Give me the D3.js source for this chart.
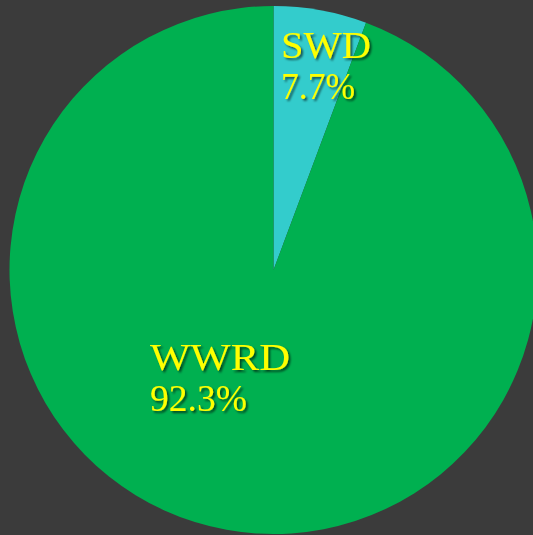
<!DOCTYPE html>
<html><head><meta charset="utf-8">
<script src="https://cdn.jsdelivr.net/npm/d3@7"></script>
<style>
html,body{margin:0;padding:0;background:#3b3b3b;}
svg{display:block;}
</style></head>
<body>
<svg id="c" width="533" height="535"></svg>
<script>
// slice sizes as drawn in the picture; label texts as printed
const categories = ["SWD", "WWRD"];
const values = [5.7, 94.3];
const labels = ["7.7%", "92.3%"];
const colors = ["#33cccc", "#00b050"];

const svg = d3.select("#c");
const W = 533, H = 535;
svg.append("rect").attr("width", W).attr("height", H).attr("fill", "#3b3b3b");

const cx = 273.5, cy = 270, r = 264;
const defs = svg.append("defs");
const f = defs.append("filter").attr("id", "sh").attr("x", "-10%").attr("y", "-10%").attr("width", "130%").attr("height", "130%");
f.append("feDropShadow").attr("dx", 2).attr("dy", 2).attr("stdDeviation", 0.8).attr("flood-color", "#000").attr("flood-opacity", 0.6);

const pie = d3.pie().sort(null).value(d => d)(values);
const arc = d3.arc().innerRadius(0).outerRadius(r);
const g = svg.append("g").attr("transform", `translate(${cx},${cy})`);
g.selectAll("path").data(pie).join("path")
  .attr("d", arc)
  .attr("fill", (d, i) => colors[i]);

const labelPos = [[281, 58], [150, 370]];
const nameLen = [90, 140];
const pctLen = [74, 97];
const tg = svg.append("g").attr("filter", "url(#sh)");
categories.forEach((c, i) => {
  const t = tg.append("text")
    .attr("x", labelPos[i][0]).attr("y", labelPos[i][1])
    .attr("fill", "#ffff00")
    .attr("font-family", "'Liberation Serif', 'DejaVu Serif', serif")
    .attr("font-size", 37);
  t.append("tspan").attr("x", labelPos[i][0])
    .attr("textLength", nameLen[i]).attr("lengthAdjust", "spacingAndGlyphs").text(c);
  t.append("tspan").attr("x", labelPos[i][0]).attr("dy", 41)
    .attr("textLength", pctLen[i]).attr("lengthAdjust", "spacingAndGlyphs").text(labels[i]);
});
</script>
</body></html>
